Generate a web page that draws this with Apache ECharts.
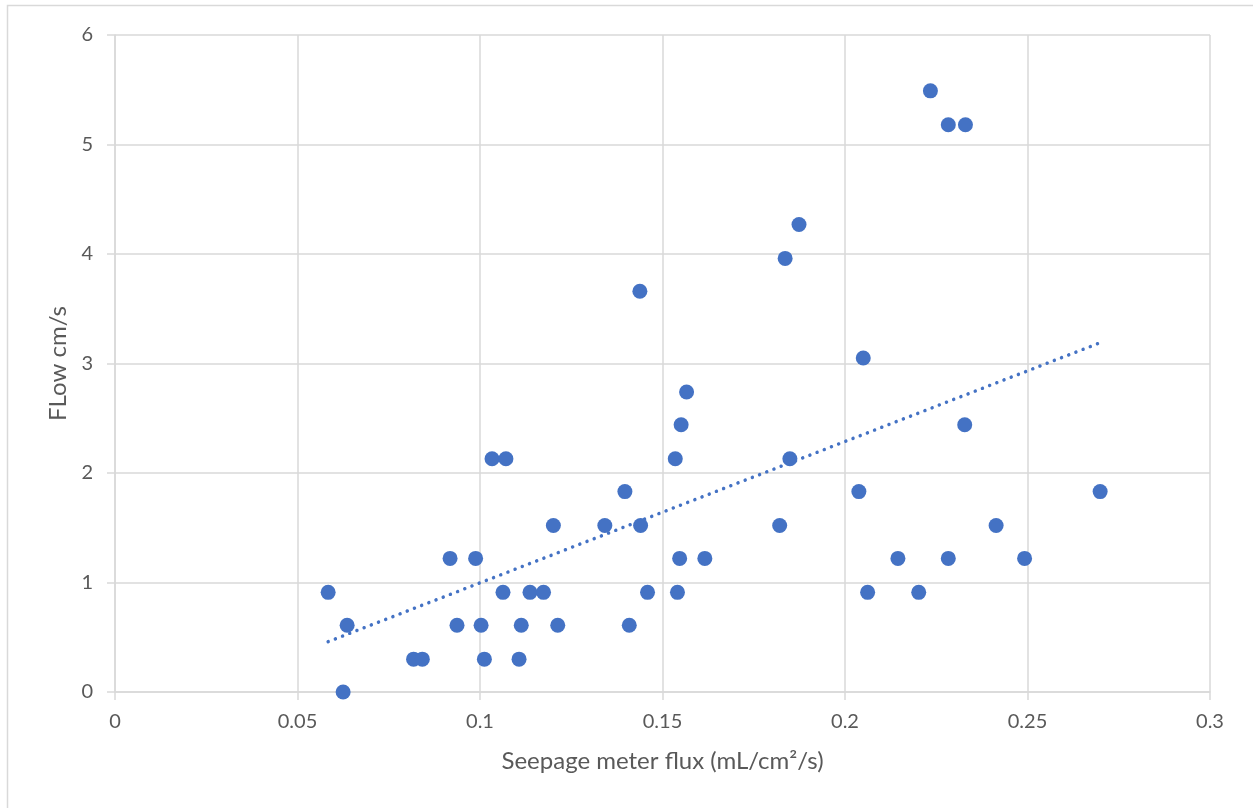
<!DOCTYPE html>
<html>
<head>
<meta charset="utf-8">
<script src="https://cdn.jsdelivr.net/npm/echarts@6/dist/echarts.min.js"></script>
<style>
html,body{margin:0;padding:0;background:#fff;}
#chart{width:1253px;height:808px;}
</style>
</head>
<body>
<div id="chart"></div>
<script>
// Seepage meter flux (mL/cm2/s)
const fluxX = [
  0.0584, 0.0636, 0.0625, 0.0818, 0.0842, 0.0918, 0.0937, 0.0988, 0.1003, 0.1012,
  0.1033, 0.1071, 0.1063, 0.1107, 0.1113, 0.1137, 0.1174, 0.1201, 0.1213, 0.1342,
  0.1397, 0.1409, 0.1438, 0.1440, 0.1459, 0.1535, 0.1541, 0.1547, 0.1551, 0.1566,
  0.1616, 0.1821, 0.1836, 0.1849, 0.1874, 0.2038, 0.2050, 0.2062, 0.2145, 0.2202,
  0.2234, 0.2283, 0.2283, 0.2330, 0.2328, 0.2414, 0.2492, 0.2699
];
// Flow cm/s
const flowY = [
  0.91, 0.61, 0.00, 0.30, 0.30, 1.22, 0.61, 1.22, 0.61, 0.30,
  2.13, 2.13, 0.91, 0.30, 0.61, 0.91, 0.91, 1.52, 0.61, 1.52,
  1.83, 0.61, 3.66, 1.52, 0.91, 2.13, 0.91, 1.22, 2.44, 2.74,
  1.22, 1.52, 3.96, 2.13, 4.27, 1.83, 3.05, 0.91, 1.22, 0.91,
  5.49, 5.18, 1.22, 5.18, 2.44, 1.52, 1.22, 1.83
];
// Linear trendline endpoints
const trendX = [0.0584, 0.2699];
const trendY = [0.46, 3.19];

const xTicks = [0, 0.05, 0.1, 0.15, 0.2, 0.25, 0.3];
const yTicks = [0, 1, 2, 3, 4, 5, 6];

const points = fluxX.map((x, i) => [x, flowY[i]]);
const trend = trendX.map((x, i) => [x, trendY[i]]);

const FONT = 'Lato';
const TXT = '#595959';
const GRID = '#D9D9D9';

const chart = echarts.init(document.getElementById('chart'), null, {renderer: 'canvas'});
chart.setOption({
  animation: false,
  backgroundColor: '#fff',
  textStyle: {fontFamily: FONT},
  grid: {left: 115, right: 43, top: 35, bottom: 116, containLabel: false},
  graphic: [{
    type: 'polyline',
    shape: {points: [[7.5, 808], [7.5, 5.5], [1253, 5.5]]},
    style: {stroke: GRID, lineWidth: 1.5, fill: null},
    silent: true
  }],
  xAxis: {
    type: 'value',
    min: xTicks[0], max: xTicks[xTicks.length - 1], interval: 0.05,
    name: 'Seepage meter flux (mL/cm²/s)',
    nameLocation: 'middle', nameGap: 57,
    nameTextStyle: {fontFamily: FONT, fontSize: 24, color: TXT},
    axisLine: {show: true, lineStyle: {color: GRID, width: 1.5}},
    axisTick: {show: true, length: 8, lineStyle: {color: GRID, width: 1.5}},
    axisLabel: {fontFamily: FONT, fontSize: 20, color: TXT, margin: 20,
      formatter: v => String(Math.round(v * 100) / 100)},
    splitLine: {show: true, lineStyle: {color: GRID, width: 1.5}}
  },
  yAxis: {
    type: 'value',
    min: yTicks[0], max: yTicks[yTicks.length - 1], interval: 1,
    name: 'FLow cm/s',
    nameLocation: 'middle', nameGap: 45, nameRotate: 90,
    nameTextStyle: {fontFamily: FONT, fontSize: 24, color: TXT},
    axisLine: {show: true, lineStyle: {color: GRID, width: 1.5}},
    axisTick: {show: true, length: 8, lineStyle: {color: GRID, width: 1.5}},
    axisLabel: {fontFamily: FONT, fontSize: 20, color: TXT, margin: 22},
    splitLine: {show: true, lineStyle: {color: GRID, width: 1.5}}
  },
  series: [{
    type: 'scatter',
    data: points,
    symbol: 'circle',
    symbolSize: 15,
    itemStyle: {color: '#4472C4', opacity: 1},
    z: 3
  }, {
    type: 'line',
    data: trend,
    showSymbol: false,
    symbol: 'none',
    lineStyle: {color: '#4472C4', width: 3.5, type: [0.01, 7.7], cap: 'round'},
    z: 2
  }]
});
</script>
</body>
</html>
